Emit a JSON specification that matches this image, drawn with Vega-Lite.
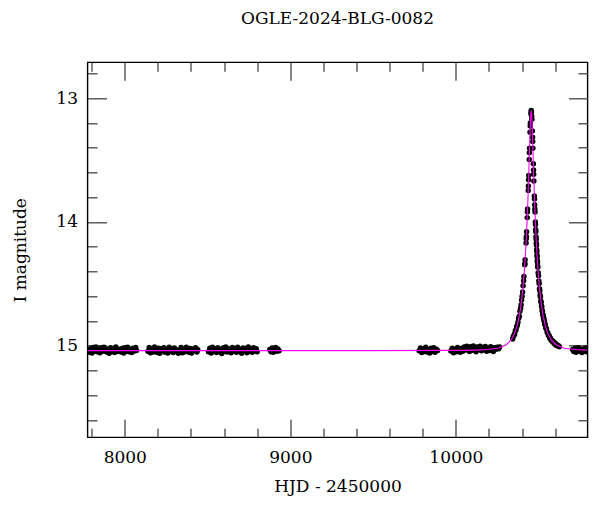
{
  "$schema": "https://vega.github.io/schema/vega-lite/v6.json",
  "autosize": {"type": "none"},
  "padding": {"left": 87.5, "top": 62.3, "right": 12.5, "bottom": 74.7},
  "width": 500,
  "height": 375,
  "background": "#ffffff",
  "title": {"text": "OGLE-2024-BLG-0082", "font": "DejaVu Serif", "fontSize": 17, "fontWeight": "normal", "color": "#000", "anchor": "middle", "frame": "group", "baseline": "alphabetic", "offset": 20.6},
  "config": {"view": {"stroke": "#000", "strokeWidth": 1.4}},
  "datasets": {
    "obs": [
      {"t":7778,"m":15.035},{"t":7786,"m":15.053},{"t":7794,"m":15.023},{"t":7802,"m":15.059},{"t":7810,"m":15.015},{"t":7818,"m":15.042},{"t":7826,"m":15.010},{"t":7834,"m":15.048},{"t":7842,"m":15.030},{"t":7850,"m":15.056},{"t":7858,"m":15.019},{"t":7866,"m":15.045},{"t":7874,"m":15.013},{"t":7882,"m":15.039},{"t":7890,"m":15.051},{"t":7898,"m":15.026},{"t":7906,"m":15.061},{"t":7914,"m":15.017},{"t":7922,"m":15.037},{"t":7930,"m":15.022},{"t":7938,"m":15.054},{"t":7946,"m":15.011},{"t":7954,"m":15.046},{"t":7962,"m":15.032},{"t":7970,"m":15.028},{"t":7978,"m":15.050},{"t":7986,"m":15.020},{"t":7994,"m":15.058},{"t":8002,"m":15.016},{"t":8010,"m":15.044},{"t":8018,"m":15.012},{"t":8026,"m":15.049},{"t":8034,"m":15.031},{"t":8042,"m":15.055},{"t":8050,"m":15.021},{"t":8058,"m":15.043},{"t":8066,"m":15.014},{"t":8071,"m":15.038},
      {"t":8140,"m":15.045},{"t":8148,"m":15.015},{"t":8156,"m":15.057},{"t":8164,"m":15.029},{"t":8172,"m":15.050},{"t":8180,"m":15.011},{"t":8188,"m":15.040},{"t":8196,"m":15.054},{"t":8204,"m":15.021},{"t":8212,"m":15.061},{"t":8220,"m":15.025},{"t":8228,"m":15.036},{"t":8236,"m":15.016},{"t":8244,"m":15.052},{"t":8252,"m":15.032},{"t":8260,"m":15.058},{"t":8268,"m":15.013},{"t":8276,"m":15.043},{"t":8284,"m":15.024},{"t":8292,"m":15.055},{"t":8300,"m":15.018},{"t":8308,"m":15.047},{"t":8316,"m":15.034},{"t":8324,"m":15.060},{"t":8332,"m":15.041},{"t":8340,"m":15.014},{"t":8348,"m":15.056},{"t":8356,"m":15.027},{"t":8364,"m":15.049},{"t":8372,"m":15.012},{"t":8380,"m":15.039},{"t":8388,"m":15.053},{"t":8396,"m":15.022},{"t":8404,"m":15.059},{"t":8412,"m":15.026},{"t":8420,"m":15.037},{"t":8428,"m":15.017},{"t":8436,"m":15.051},{"t":8441,"m":15.033},
      {"t":8506,"m":15.048},{"t":8514,"m":15.020},{"t":8522,"m":15.058},{"t":8530,"m":15.012},{"t":8538,"m":15.041},{"t":8546,"m":15.027},{"t":8554,"m":15.055},{"t":8562,"m":15.016},{"t":8570,"m":15.046},{"t":8578,"m":15.031},{"t":8586,"m":15.062},{"t":8594,"m":15.019},{"t":8602,"m":15.044},{"t":8610,"m":15.010},{"t":8618,"m":15.050},{"t":8626,"m":15.024},{"t":8634,"m":15.037},{"t":8642,"m":15.057},{"t":8650,"m":15.015},{"t":8658,"m":15.042},{"t":8666,"m":15.029},{"t":8674,"m":15.053},{"t":8682,"m":15.013},{"t":8690,"m":15.047},{"t":8698,"m":15.033},{"t":8706,"m":15.060},{"t":8714,"m":15.018},{"t":8722,"m":15.040},{"t":8730,"m":15.022},{"t":8738,"m":15.056},{"t":8746,"m":15.011},{"t":8754,"m":15.045},{"t":8762,"m":15.030},{"t":8770,"m":15.052},{"t":8778,"m":15.017},{"t":8786,"m":15.043},{"t":8794,"m":15.025},{"t":8800,"m":15.049},
      {"t":8876,"m":15.030},{"t":8883,"m":15.048},{"t":8890,"m":15.019},{"t":8897,"m":15.052},{"t":8904,"m":15.036},{"t":8911,"m":15.015},{"t":8918,"m":15.044},{"t":8925,"m":15.026},{"t":8932,"m":15.040},
      {"t":9778,"m":15.041},{"t":9786,"m":15.018},{"t":9794,"m":15.055},{"t":9802,"m":15.027},{"t":9810,"m":15.047},{"t":9818,"m":15.013},{"t":9826,"m":15.050},{"t":9834,"m":15.033},{"t":9842,"m":15.058},{"t":9850,"m":15.021},{"t":9858,"m":15.044},{"t":9866,"m":15.016},{"t":9874,"m":15.053},{"t":9882,"m":15.029},{"t":9890,"m":15.038},
      {"t":9970,"m":15.043},{"t":9978,"m":15.020},{"t":9986,"m":15.056},{"t":9994,"m":15.030},{"t":10002,"m":15.048},{"t":10010,"m":15.014},{"t":10018,"m":15.039},{"t":10026,"m":15.052},{"t":10034,"m":15.023},{"t":10042,"m":15.045},{"t":10050,"m":15.011},{"t":10058,"m":15.034},{"t":10066,"m":15.005},{"t":10074,"m":15.028},{"t":10082,"m":15.046},{"t":10090,"m":15.008},{"t":10098,"m":15.037},{"t":10106,"m":15.002},{"t":10114,"m":15.024},{"t":10122,"m":15.049},{"t":10130,"m":15.010},{"t":10138,"m":15.031},{"t":10146,"m":15.004},{"t":10154,"m":15.041},{"t":10162,"m":15.015},{"t":10170,"m":15.033},{"t":10178,"m":15.006},{"t":10186,"m":15.044},{"t":10194,"m":15.019},{"t":10202,"m":15.038},{"t":10210,"m":15.009},{"t":10218,"m":15.027},{"t":10226,"m":15.047},{"t":10234,"m":15.016},{"t":10242,"m":15.029},{"t":10250,"m":15.012},{"t":10258,"m":15.025},{"t":10264,"m":15.010},
      {"t":10343,"m":14.945},{"t":10347,"m":14.925},{"t":10351,"m":14.915},{"t":10355,"m":14.905},{"t":10359,"m":14.880},{"t":10363,"m":14.872},{"t":10367,"m":14.846},{"t":10371,"m":14.835},{"t":10375,"m":14.810},{"t":10379,"m":14.778},{"t":10383,"m":14.762},{"t":10387,"m":14.722},{"t":10391,"m":14.698},{"t":10394,"m":14.668},{"t":10397,"m":14.630},{"t":10400,"m":14.600},{"t":10403,"m":14.565},{"t":10406,"m":14.515},{"t":10409,"m":14.475},{"t":10411,"m":14.440},{"t":10416,"m":14.345},{"t":10417,"m":14.335},{"t":10418,"m":14.305},{"t":10424,"m":14.170},{"t":10425,"m":14.135},{"t":10426,"m":14.118},{"t":10427,"m":14.080},{"t":10431,"m":13.965},{"t":10432,"m":13.920},{"t":10433,"m":13.895},{"t":10437,"m":13.745},{"t":10438,"m":13.710},{"t":10439,"m":13.660},{"t":10440,"m":13.625},{"t":10443,"m":13.495},{"t":10444,"m":13.440},{"t":10445,"m":13.405},{"t":10448,"m":13.275},{"t":10449,"m":13.225},{"t":10450,"m":13.200},{"t":10453,"m":13.125},{"t":10455,"m":13.100},{"t":10456,"m":13.112},
      {"t":10458,"m":13.145},{"t":10459,"m":13.170},{"t":10462,"m":13.265},{"t":10463,"m":13.315},{"t":10464,"m":13.350},{"t":10465,"m":13.405},{"t":10468,"m":13.530},{"t":10469,"m":13.580},{"t":10470,"m":13.615},{"t":10471,"m":13.670},{"t":10474,"m":13.790},{"t":10475,"m":13.815},{"t":10476,"m":13.860},{"t":10477,"m":13.895},{"t":10478,"m":13.920},{"t":10480,"m":14.000},{"t":10481,"m":14.020},{"t":10482,"m":14.060},{"t":10483,"m":14.080},{"t":10484,"m":14.120},{"t":10485,"m":14.140},{"t":10486,"m":14.172},{"t":10487,"m":14.188},{"t":10488,"m":14.222},{"t":10489,"m":14.238},{"t":10490,"m":14.268},{"t":10491,"m":14.282},{"t":10492,"m":14.312},{"t":10493,"m":14.326},{"t":10494,"m":14.355},{"t":10495,"m":14.366},{"t":10497,"m":14.410},{"t":10499,"m":14.434},{"t":10501,"m":14.476},{"t":10503,"m":14.498},{"t":10505,"m":14.540},{"t":10507,"m":14.556},{"t":10509,"m":14.590},{"t":10511,"m":14.604},{"t":10513,"m":14.638},{"t":10515,"m":14.650},{"t":10517,"m":14.680},{"t":10519,"m":14.688},{"t":10521,"m":14.716},{"t":10523,"m":14.724},{"t":10525,"m":14.750},{"t":10527,"m":14.752},{"t":10529,"m":14.776},{"t":10531,"m":14.778},{"t":10533,"m":14.800},{"t":10535,"m":14.803},{"t":10537,"m":14.826},{"t":10539,"m":14.828},{"t":10543,"m":14.856},{"t":10547,"m":14.862},{"t":10551,"m":14.890},{"t":10555,"m":14.896},{"t":10559,"m":14.916},{"t":10563,"m":14.917},{"t":10567,"m":14.937},{"t":10571,"m":14.938},{"t":10575,"m":14.956},{"t":10580,"m":14.955},{"t":10585,"m":14.970},{"t":10590,"m":14.968},{"t":10595,"m":14.984},{"t":10600,"m":14.980},{"t":10605,"m":14.997},{"t":10610,"m":14.992},{"t":10615,"m":15.003},{"t":10620,"m":15.000},{"t":10625,"m":15.009},
      {"t":10705,"m":15.030},{"t":10712,"m":15.047},{"t":10719,"m":15.021},{"t":10726,"m":15.052},{"t":10733,"m":15.035},{"t":10740,"m":15.017},{"t":10747,"m":15.044},{"t":10754,"m":15.026},{"t":10761,"m":15.055},{"t":10768,"m":15.031},{"t":10775,"m":15.040},{"t":10782,"m":15.019},{"t":10789,"m":15.048}
    ],
    "model": [
      {"t":7775,"m":15.040},{"t":9455,"m":15.040},{"t":9955,"m":15.038},{"t":10055,"m":15.038},{"t":10155,"m":15.034},{"t":10255,"m":15.021},{"t":10305,"m":14.992},{"t":10335,"m":14.951},{"t":10355,"m":14.900},{"t":10370,"m":14.838},{"t":10385,"m":14.745},{"t":10395,"m":14.655},{"t":10405,"m":14.535},{"t":10415,"m":14.370},{"t":10420,"m":14.265},{"t":10425,"m":14.141},{"t":10430,"m":13.995},{"t":10435,"m":13.822},{"t":10439,"m":13.664},{"t":10442,"m":13.534},{"t":10445,"m":13.399},{"t":10447,"m":13.311},{"t":10449,"m":13.231},{"t":10450,"m":13.195},{"t":10451,"m":13.164},{"t":10452,"m":13.139},{"t":10453,"m":13.120},{"t":10454,"m":13.108},{"t":10455,"m":13.104},{"t":10456,"m":13.108},{"t":10457,"m":13.120},{"t":10458,"m":13.139},{"t":10459,"m":13.164},{"t":10460,"m":13.195},{"t":10461,"m":13.231},{"t":10463,"m":13.311},{"t":10465,"m":13.399},{"t":10468,"m":13.534},{"t":10471,"m":13.664},{"t":10475,"m":13.822},{"t":10480,"m":13.995},{"t":10485,"m":14.141},{"t":10490,"m":14.265},{"t":10495,"m":14.370},{"t":10505,"m":14.535},{"t":10515,"m":14.655},{"t":10525,"m":14.745},{"t":10540,"m":14.838},{"t":10555,"m":14.900},{"t":10575,"m":14.951},{"t":10605,"m":14.992},{"t":10655,"m":15.021},{"t":10755,"m":15.034},{"t":10795,"m":15.035}
    ]
  },
  "resolve": {"axis": {"x": "independent", "y": "independent"}},
  "layer": [
    {
      "data": {"name": "obs"},
      "mark": {"type": "point", "filled": true, "color": "#000", "size": 30, "opacity": 1, "clip": true},
      "encoding": {
        "x": {"field": "t", "type": "quantitative",
          "scale": {"domain": [7775, 10795], "nice": false, "zero": false},
          "axis": {"orient": "bottom", "title": "HJD - 2450000", "grid": false, "domain": false,
            "values": [7800,8000,8200,8400,8600,8800,9000,9200,9400,9600,9800,10000,10200,10400,10600],
            "tickSize": {"condition": {"test": "datum.value % 1000 === 0", "value": -18}, "value": -9},
            "tickColor": "#444", "tickWidth": 1.3,
            "labelExpr": "datum.value % 1000 === 0 ? format(datum.value, 'd') : ''",
            "labelFont": "DejaVu Serif", "labelFontSize": 17, "labelColor": "#000",
            "labelBaseline": "alphabetic", "labelPadding": 43.4, "labelFlush": false, "labelOverlap": false,
            "titleFont": "DejaVu Serif", "titleFontSize": 17, "titleFontWeight": "normal", "titleColor": "#000",
            "titleBaseline": "alphabetic", "titleX": 250, "titleY": 54.4, "titleAnchor": "middle"}},
        "y": {"field": "m", "type": "quantitative",
          "scale": {"domain": [12.71, 15.74], "reverse": true, "nice": false, "zero": false},
          "axis": {"orient": "left", "title": "I magnitude", "grid": false, "domain": false,
            "values": [12.8,13,13.2,13.4,13.6,13.8,14,14.2,14.4,14.6,14.8,15,15.2,15.4,15.6],
            "tickSize": {"condition": {"test": "abs(datum.value - round(datum.value)) < 0.001", "value": -19}, "value": -9.5},
            "tickColor": "#444", "tickWidth": 1.3,
            "labelExpr": "abs(datum.value - round(datum.value)) < 0.001 ? format(datum.value, 'd') : ''",
            "labelFont": "DejaVu Serif", "labelFontSize": 17, "labelColor": "#000",
            "labelBaseline": "middle", "labelPadding": 29, "labelFlush": false, "labelOverlap": false,
            "titleFont": "DejaVu Serif", "titleFontSize": 17, "titleFontWeight": "normal", "titleColor": "#000",
            "titleAngle": -90, "titleBaseline": "alphabetic", "titleX": -62.4, "titleY": 187.5, "titleAnchor": "middle"}}
      }
    },
    {
      "data": {"name": "model"},
      "mark": {"type": "line", "color": "#ff00ff", "strokeWidth": 1.1, "clip": true},
      "encoding": {
        "x": {"field": "t", "type": "quantitative",
          "axis": {"orient": "top", "title": null, "grid": false, "domain": false, "labels": false,
            "values": [7800,8000,8200,8400,8600,8800,9000,9200,9400,9600,9800,10000,10200,10400,10600],
            "tickSize": {"condition": {"test": "datum.value % 1000 === 0", "value": -18}, "value": -9},
            "tickColor": "#444", "tickWidth": 1.3}},
        "y": {"field": "m", "type": "quantitative",
          "axis": {"orient": "right", "title": null, "grid": false, "domain": false, "labels": false,
            "values": [12.8,13,13.2,13.4,13.6,13.8,14,14.2,14.4,14.6,14.8,15,15.2,15.4,15.6],
            "tickSize": {"condition": {"test": "abs(datum.value - round(datum.value)) < 0.001", "value": -19}, "value": -9.5},
            "tickColor": "#444", "tickWidth": 1.3}}
      }
    }
  ]
}
